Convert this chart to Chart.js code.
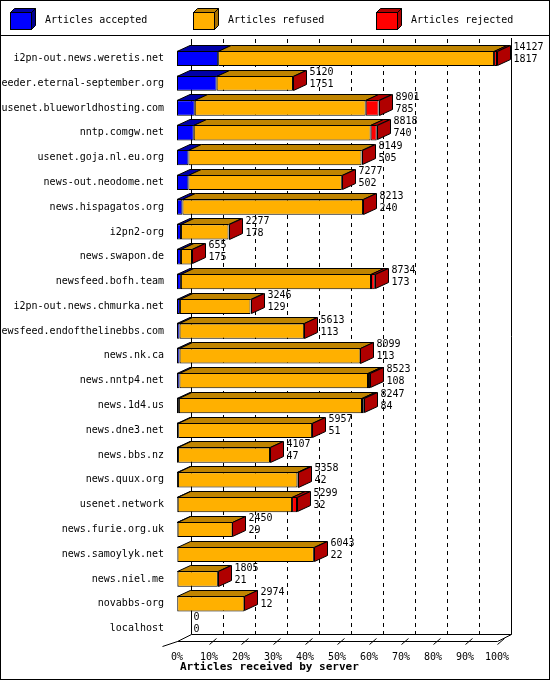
<!DOCTYPE html>
<html>
<head>
<meta charset="utf-8">
<script src="https://cdn.jsdelivr.net/npm/chart.js@4"></script>
<style>
  html, body { margin: 0; padding: 0; background: #fff; }
  #wrap { position: absolute; left: 0; top: 0; width: 550px; height: 680px; }
</style>
</head>
<body>
<div id="wrap"><canvas id="chart" width="550" height="680"></canvas></div>
<script>
const servers = ['i2pn-out.news.weretis.net', 'feeder.eternal-september.org', 'usenet.blueworldhosting.com',
  'nntp.comgw.net', 'usenet.goja.nl.eu.org', 'news-out.neodome.net', 'news.hispagatos.org', 'i2pn2-org',
  'news.swapon.de', 'newsfeed.bofh.team', 'i2pn-out.news.chmurka.net', 'newsfeed.endofthelinebbs.com',
  'news.nk.ca', 'news.nntp4.net', 'news.1d4.us', 'news.dne3.net', 'news.bbs.nz', 'news.quux.org',
  'usenet.network', 'news.furie.org.uk', 'news.samoylyk.net', 'news.niel.me', 'novabbs-org', 'localhost'];
const totals = [14127, 5120, 8901, 8818, 8149, 7277, 8213, 2277, 655, 8734, 3246, 5613, 8099, 8523, 8247,
  5957, 4107, 5358, 5299, 2450, 6043, 1805, 2974, 0];
const accepted = [1817, 1751, 785, 740, 505, 502, 240, 178, 175, 173, 129, 113, 113, 108, 84, 51, 47, 42,
  32, 29, 22, 21, 12, 0];
const rejected = [130, 0, 570, 270, 0, 0, 0, 0, 0, 170, 0, 0, 0, 90, 80, 0, 0, 40, 220, 0, 0, 0, 0, 0];
const refused = totals.map((t, i) => t - accepted[i] - rejected[i]);
const tickPercents = [0, 10, 20, 30, 40, 50, 60, 70, 80, 90, 100];

const FONT = '10px "DejaVu Sans Mono", monospace';
const DX = 13, DY = -6;     // bar depth
const GX = 14, GY = -7;     // wall depth
const maxVal = Math.max(...totals);

const colors = [
  { front: '#0000ff', top: '#0000a8', side: '#000090' },
  { front: '#ffb000', top: '#c08400', side: '#a87000' },
  { front: '#ff0000', top: '#b00000', side: '#b00000' }
];

function poly(ctx, pts, fill) {
  ctx.beginPath();
  ctx.moveTo(pts[0][0], pts[0][1]);
  pts.slice(1).forEach(p => ctx.lineTo(p[0], p[1]));
  ctx.closePath();
  ctx.fillStyle = fill;
  ctx.fill();
  ctx.stroke();
}

const frame3d = {
  id: 'frame3d',
  beforeDatasetsDraw(chart) {
    const { ctx, chartArea: a, scales: { x } } = chart;
    ctx.save();
    ctx.strokeStyle = '#000';
    ctx.lineWidth = 1;
    // dashed back-wall grid
    ctx.setLineDash([4, 4]);
    tickPercents.slice(1, -1).forEach(p => {
      const px = Math.round(x.getPixelForValue(maxVal * p / 100) + GX) + 0.5;
      ctx.beginPath(); ctx.moveTo(px, a.top + GY); ctx.lineTo(px, a.bottom + GY); ctx.stroke();
    });
    ctx.setLineDash([]);
    // wall and floor
    const l = Math.round(a.left) + 0.5, r = Math.round(a.right) + 0.5, b = Math.round(a.bottom) + 0.5;
    ctx.beginPath();
    ctx.moveTo(l + GX, a.top + GY); ctx.lineTo(l + GX, b + GY); ctx.lineTo(r + GX, b + GY);
    ctx.lineTo(r + GX, a.top - 8); ctx.stroke();
    ctx.beginPath();
    ctx.moveTo(l - 15, b + 5); ctx.lineTo(l, b); ctx.lineTo(r, b); ctx.lineTo(r + GX, b + GY);
    ctx.moveTo(l, b); ctx.lineTo(l + GX, b + GY);
    ctx.stroke();
    // small floor ticks
    tickPercents.slice(1).forEach(p => {
      const px = Math.round(x.getPixelForValue(maxVal * p / 100)) + 0.5;
      ctx.beginPath(); ctx.moveTo(px, b + 3); ctx.lineTo(px + 7, b - 3); ctx.stroke();
    });
    ctx.restore();
  },
  afterDatasetsDraw(chart) {
    const { ctx } = chart;
    ctx.save();
    ctx.strokeStyle = '#000';
    ctx.lineWidth = 1;
    servers.forEach((s, i) => {
      let lastEnd = null, top = null, bot = null, cy = null;
      chart.data.datasets.forEach((ds, d) => {
        const el = chart.getDatasetMeta(d).data[i];
        const x0 = Math.min(el.base, el.x), x1 = Math.max(el.base, el.x);
        top = Math.round(el.y - el.height / 2) + 0.5;
        bot = Math.round(el.y + el.height / 2) - 0.5;
        cy = el.y;
        if (lastEnd === null) lastEnd = x0;
        if (x1 - x0 < 0.5) return;
        poly(ctx, [[x0, top], [x1, top], [x1 + DX, top + DY], [x0 + DX, top + DY]], colors[d].top);
        lastEnd = x1;
      });
      const xe = Math.round(lastEnd) + 0.5;
      if (totals[i] > 0) {
        poly(ctx, [[xe, top], [xe + DX, top + DY], [xe + DX, bot + DY], [xe, bot]], '#b00000');
      }
      ctx.fillStyle = '#000';
      ctx.font = FONT;
      ctx.textAlign = 'left';
      ctx.textBaseline = 'middle';
      ctx.fillText(String(totals[i]), xe + DX + 3, cy - 11);
      ctx.fillText(String(accepted[i]), xe + DX + 3, cy + 1);
    });
    ctx.restore();
  },
  afterDraw(chart) {
    const { ctx, chartArea: a } = chart;
    ctx.save();
    ctx.strokeStyle = '#000';
    ctx.lineWidth = 1;
    ctx.strokeRect(0.5, 0.5, 549, 679);
    ctx.beginPath(); ctx.moveTo(0, 35.5); ctx.lineTo(550, 35.5); ctx.stroke();
    // legend
    const names = chart.data.datasets.map(ds => ds.label);
    const lx = [10, 193, 376];
    names.forEach((n, k) => {
      const x0 = lx[k] + 0.5, y0 = 12.5, w = 21, h = 17, d = 4;
      poly(ctx, [[x0, y0], [x0 + w, y0], [x0 + w + d, y0 - d], [x0 + d, y0 - d]], colors[k].top);
      poly(ctx, [[x0 + w, y0], [x0 + w + d, y0 - d], [x0 + w + d, y0 + h - d], [x0 + w, y0 + h]], colors[k].side);
      ctx.fillStyle = colors[k].front;
      ctx.fillRect(x0, y0, w, h);
      ctx.strokeRect(x0, y0, w, h);
      ctx.fillStyle = '#000';
      ctx.font = FONT;
      ctx.textBaseline = 'middle';
      ctx.fillText(n, lx[k] + 35, 20);
    });
    ctx.font = 'bold 11px "DejaVu Sans Mono", monospace';
    ctx.textBaseline = 'middle';
    ctx.fillText('Articles received by server', 180, 667);
    ctx.restore();
  }
};

const mkSet = (label, data, k) => ({
  label, data,
  backgroundColor: colors[k].front,
  borderColor: '#000',
  borderWidth: 1,
  borderSkipped: false,
  barPercentage: 0.62,
  categoryPercentage: 1
});

new Chart(document.getElementById('chart'), {
  type: 'bar',
  data: {
    labels: servers,
    datasets: [
      mkSet('Articles accepted', accepted, 0),
      mkSet('Articles refused', refused, 1),
      mkSet('Articles rejected', rejected, 2)
    ]
  },
  plugins: [frame3d],
  options: {
    indexAxis: 'y',
    responsive: false,
    animation: false,
    events: [],
    layout: { padding: { left: 0, right: 53, top: 46, bottom: 18 } },
    plugins: { legend: { display: false }, tooltip: { enabled: false } },
    scales: {
      x: {
        stacked: true, min: 0, max: maxVal,
        afterBuildTicks: s => { s.ticks = tickPercents.map(p => ({ value: maxVal * p / 100 })); },
        afterFit: s => { s.height = 21; },
        grid: { display: false }, border: { display: false },
        ticks: { color: '#000', font: { family: 'DejaVu Sans Mono', size: 10 }, padding: 2,
          maxRotation: 0, autoSkip: false,
          callback: v => Math.round(v / maxVal * 100) + '%' }
      },
      y: {
        stacked: true,
        afterFit: s => { s.width = 177; },
        grid: { display: false }, border: { display: false },
        ticks: { color: '#000', font: { family: 'DejaVu Sans Mono', size: 10 }, padding: 5, autoSkip: false }
      }
    }
  }
});
</script>
</body>
</html>
